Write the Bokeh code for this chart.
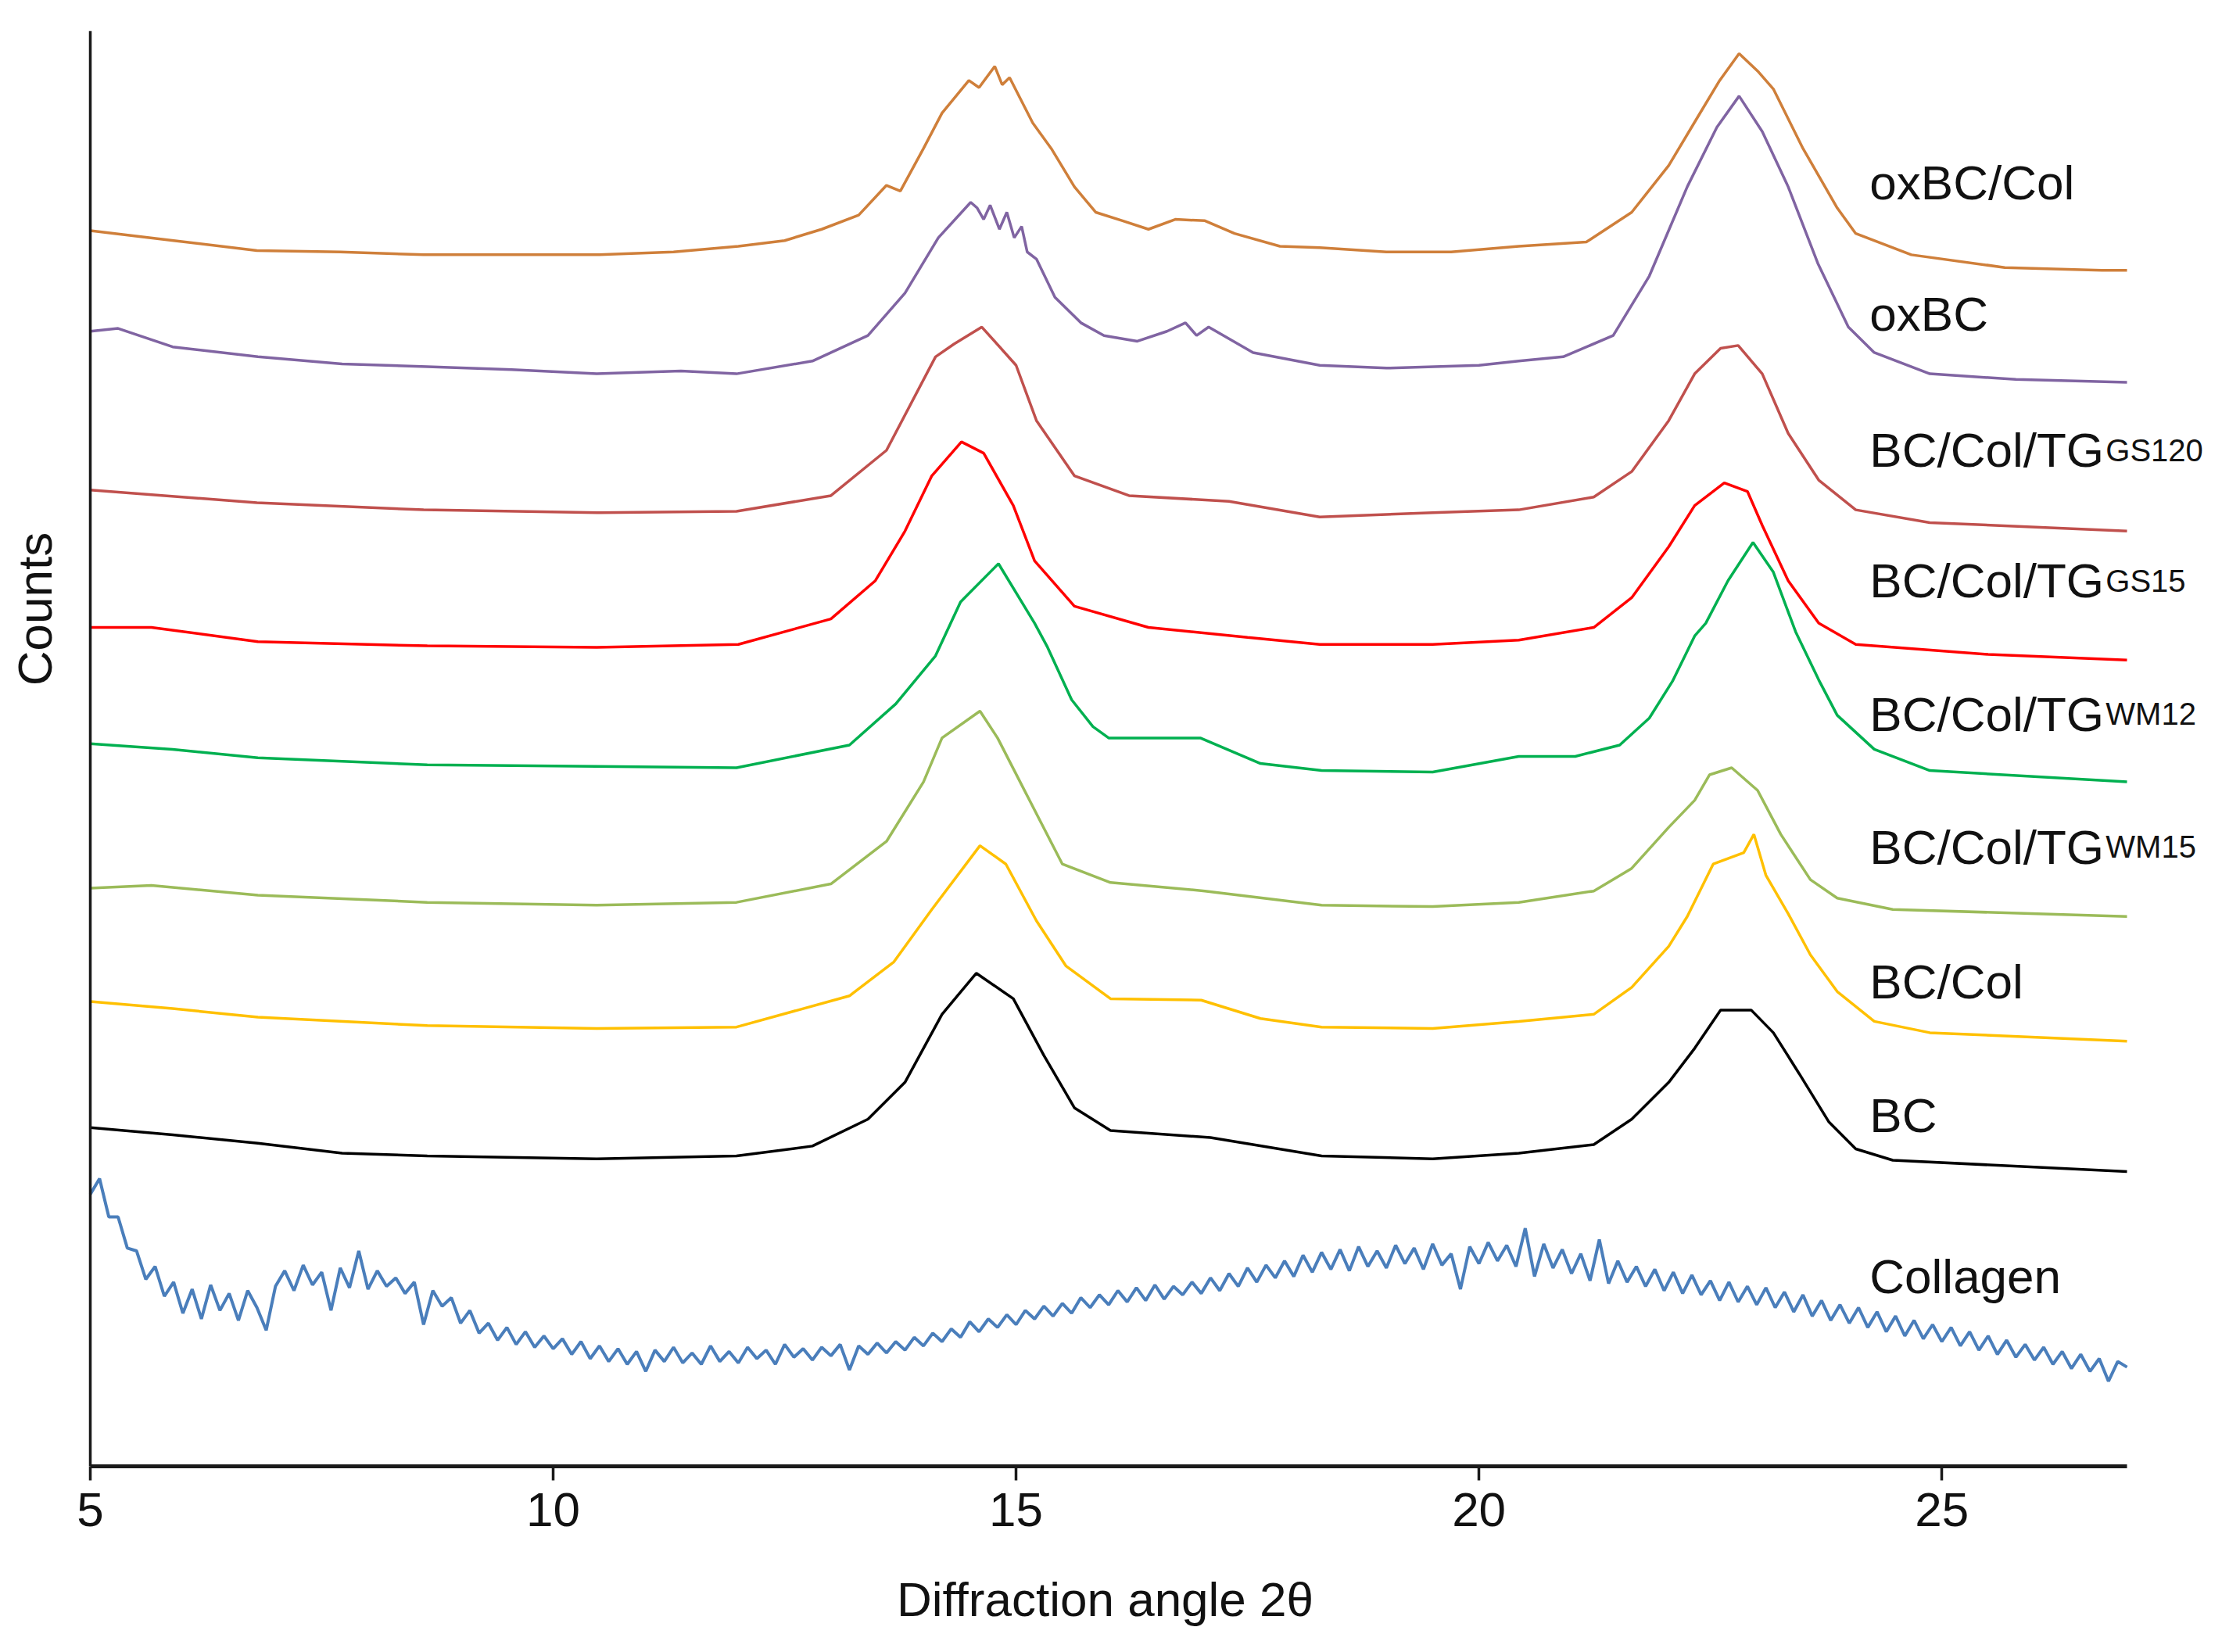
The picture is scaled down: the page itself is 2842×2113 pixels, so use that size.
import math
from bokeh.plotting import figure
from bokeh.models import Range1d, FixedTicker, Label, Span
from bokeh.embed import file_html
from bokeh.resources import INLINE

FONT = "Liberation Sans"

# ---------------- data (diffraction angle 2theta, counts in arbitrary offset units) -------------
x_oxbc_col = [5.0, 5.9, 6.8, 7.7, 8.6, 9.5, 10.5, 11.3, 12.0, 12.5, 12.9, 13.3, 13.6, 13.75, 14.0,
              14.2, 14.49, 14.6, 14.77, 14.85, 14.93, 15.18, 15.38, 15.63, 15.86, 16.15, 16.43,
              16.72, 17.04, 17.36, 17.85, 18.28, 19.0, 19.7, 20.43, 21.16, 21.65, 22.05, 22.37,
              22.6, 22.81, 23.02, 23.18, 23.5, 23.87, 24.07, 24.67, 25.68, 26.73, 27.0]
y_oxbc_col = [872, 865, 858, 857, 855, 855, 855, 857, 861, 865, 873, 883, 904, 900, 930,
              955, 978, 973, 988, 975, 980, 948, 930, 903, 885, 879, 873,
              880, 879, 870, 861, 860, 857, 857, 861, 864, 885, 918, 953,
              978, 997, 984, 972, 930, 888, 870, 855, 846, 844, 844]

x_oxbc = [5.0, 5.3, 5.89, 6.81, 7.72, 8.64, 9.55, 10.47, 11.38, 11.98, 12.8, 13.4, 13.8, 14.16,
          14.51, 14.58, 14.65, 14.72, 14.82, 14.9, 14.98, 15.06, 15.12, 15.22, 15.42, 15.7,
          15.95, 16.31, 16.63, 16.83, 16.95, 17.08, 17.56, 18.28, 19.0, 20.0, 20.43, 20.91,
          21.45, 21.84, 22.25, 22.57, 22.81, 23.06, 23.34, 23.66, 23.99, 24.27, 24.87, 25.8, 27.0]
y_oxbc = [801, 803, 790, 783, 778, 776, 774, 771, 773, 771, 780, 798, 828, 867,
          892, 888, 880, 890, 873, 885, 867, 875, 857, 852, 825, 807,
          798, 794, 801, 807, 798, 804, 786, 777, 775, 777, 780, 783,
          798, 840, 903, 945, 967, 942, 903, 849, 804, 786, 771, 767, 765]

x_gs120 = [5.0, 6.8, 8.6, 10.5, 11.98, 13.0, 13.6, 14.13, 14.33, 14.63, 15.0, 15.22, 15.63, 16.22,
           17.3, 18.28, 19.5, 20.43, 21.24, 21.65, 22.05, 22.33, 22.61, 22.8, 23.06, 23.34,
           23.67, 24.07, 24.87, 27.0]
y_gs120 = [689, 680, 675, 673, 674, 685, 717, 783, 792, 804, 777, 738, 699, 685,
           681, 670, 673, 675, 684, 702, 738, 771, 789, 791, 771, 729,
           696, 675, 666, 660]

x_gs15 = [5.0, 5.66, 6.81, 8.64, 10.47, 12.0, 13.0, 13.48, 13.8, 14.09, 14.41, 14.65, 14.97, 15.2,
          15.63, 16.43, 17.5, 18.28, 19.5, 20.43, 21.24, 21.65, 22.05, 22.33, 22.65, 22.9, 23.06,
          23.34, 23.67, 24.07, 25.5, 27.0]
y_gs15 = [592, 592, 582, 579, 578, 580, 598, 625, 660, 699, 723, 715, 678, 639,
          607, 592, 585, 580, 580, 583, 592, 613, 649, 678, 694, 688, 664,
          625, 595, 580, 573, 569]

x_wm12 = [5.0, 5.89, 6.81, 8.64, 10.47, 11.98, 13.2, 13.7, 14.13, 14.4, 14.81, 15.2, 15.34, 15.6,
          15.83, 16.0, 16.99, 17.64, 18.3, 19.5, 20.43, 21.04, 21.52, 21.84, 22.09, 22.33, 22.45,
          22.69, 22.96, 23.18, 23.42, 23.67, 23.87, 24.27, 24.87, 27.0]
y_wm12 = [510, 506, 500, 495, 494, 493, 509, 538, 572, 610, 637, 595, 578, 541,
          522, 514, 514, 496, 491, 490, 501, 501, 509, 528, 554, 586, 595,
          625, 652, 631, 589, 555, 530, 506, 491, 483]

x_wm15 = [5.0, 5.66, 6.81, 8.64, 10.47, 11.98, 13.0, 13.6, 14.0, 14.2, 14.61, 14.8, 15.13, 15.5,
          16.02, 17.04, 18.3, 19.5, 20.43, 21.24, 21.65, 22.05, 22.33, 22.49, 22.73, 23.01, 23.26,
          23.58, 23.87, 24.47, 27.0]
y_wm15 = [408, 410, 403, 398, 396, 398, 411, 441, 483, 514, 533, 514, 472, 425,
          412, 406, 396, 395, 398, 406, 422, 451, 470, 488, 493, 477, 446,
          414, 401, 393, 388]

x_bc_col = [5.0, 5.89, 6.81, 8.64, 10.47, 11.98, 13.2, 13.68, 14.09, 14.61, 14.89, 15.22, 15.54,
            16.02, 17.0, 17.64, 18.3, 19.5, 20.43, 21.24, 21.65, 22.05, 22.25, 22.53, 22.86, 22.97,
            23.1, 23.34, 23.58, 23.87, 24.27, 24.87, 27.0]
y_bc_col = [328, 323, 317, 311, 309, 310, 332, 356, 393, 438, 425, 385, 353,
            330, 329, 316, 310, 309, 314, 319, 338, 367, 388, 425, 433, 446,
            417, 390, 361, 335, 314, 306, 300]

x_bc = [5.0, 5.89, 6.81, 7.72, 8.64, 10.47, 11.98, 12.8, 13.4, 13.8, 14.2, 14.57, 14.97, 15.3,
        15.63, 16.02, 17.1, 18.3, 19.5, 20.43, 21.24, 21.65, 22.05, 22.33, 22.61, 22.94, 23.18,
        23.46, 23.78, 24.07, 24.47, 27.0]
y_bc = [239, 234, 228, 221, 219, 217, 219, 226, 245, 271, 319, 348, 330, 290,
        253, 237, 232, 219, 217, 221, 227, 245, 271, 295, 322, 322, 306,
        277, 243, 224, 216, 208]

x_collagen = [
    5.0, 5.1, 5.2, 5.3, 5.4, 5.5, 5.6, 5.7, 5.8, 5.9,
    6.0, 6.1, 6.2, 6.3, 6.4, 6.5, 6.6, 6.7, 6.8, 6.9,
    7.0, 7.1, 7.2, 7.3, 7.4, 7.5, 7.6, 7.7, 7.8, 7.9,
    8.0, 8.1, 8.2, 8.3, 8.4, 8.5, 8.6, 8.7, 8.8, 8.9,
    9.0, 9.1, 9.2, 9.3, 9.4, 9.5, 9.6, 9.7, 9.8, 9.9,
    10.0, 10.1, 10.2, 10.3, 10.4, 10.5, 10.6, 10.7, 10.8, 10.9,
    11.0, 11.1, 11.2, 11.3, 11.4, 11.5, 11.6, 11.7, 11.8, 11.9,
    12.0, 12.1, 12.2, 12.3, 12.4, 12.5, 12.6, 12.7, 12.8, 12.9,
    13.0, 13.1, 13.2, 13.3, 13.4, 13.5, 13.6, 13.7, 13.8, 13.9,
    14.0, 14.1, 14.2, 14.3, 14.4, 14.5, 14.6, 14.7, 14.8, 14.9,
    15.0, 15.1, 15.2, 15.3, 15.4, 15.5, 15.6, 15.7, 15.8, 15.9,
    16.0, 16.1, 16.2, 16.3, 16.4, 16.5, 16.6, 16.7, 16.8, 16.9,
    17.0, 17.1, 17.2, 17.3, 17.4, 17.5, 17.6, 17.7, 17.8, 17.9,
    18.0, 18.1, 18.2, 18.3, 18.4, 18.5, 18.6, 18.7, 18.8, 18.9,
    19.0, 19.1, 19.2, 19.3, 19.4, 19.5, 19.6, 19.7, 19.8, 19.9,
    20.0, 20.1, 20.2, 20.3, 20.4, 20.5, 20.6, 20.7, 20.8, 20.9,
    21.0, 21.1, 21.2, 21.3, 21.4, 21.5, 21.6, 21.7, 21.8, 21.9,
    22.0, 22.1, 22.2, 22.3, 22.4, 22.5, 22.6, 22.7, 22.8, 22.9,
    23.0, 23.1, 23.2, 23.3, 23.4, 23.5, 23.6, 23.7, 23.8, 23.9,
    24.0, 24.1, 24.2, 24.3, 24.4, 24.5, 24.6, 24.7, 24.8, 24.9,
    25.0, 25.1, 25.2, 25.3, 25.4, 25.5, 25.6, 25.7, 25.8, 25.9,
    26.0, 26.1, 26.2, 26.3, 26.4, 26.5, 26.6, 26.7, 26.8, 26.9,
    27.0]
y_collagen = [
    192, 203, 176, 176, 154, 152, 132, 141, 120, 130,
    108, 125, 104, 128, 110, 122, 103, 124, 112, 96,
    127, 138, 124, 142, 128, 137, 110, 140, 126, 152,
    125, 138, 127, 133, 122, 130, 100, 124, 113, 119,
    101, 110, 94, 101, 89, 98, 86, 95, 84, 92,
    83, 90, 79, 88, 76, 85, 74, 83, 72, 81,
    67, 82, 74, 84, 73, 80, 72, 85, 74, 81,
    73, 84, 76, 82, 72, 86, 77, 83, 75, 84,
    78, 86, 68, 85, 79, 87, 80, 88, 82, 91,
    85, 94, 88, 97, 91, 102, 95, 104, 98, 107,
    100, 110, 104, 113, 106, 115, 108, 119, 112, 121,
    114, 124, 116, 126, 117, 128, 118, 127, 121, 130,
    122, 133, 124, 136, 127, 140, 130, 142, 133, 145,
    134, 149, 137, 151, 139, 153, 138, 155, 141, 152,
    140, 156, 143, 154, 139, 157, 142, 150, 125, 155,
    143, 158, 145, 156, 141, 168, 134, 157, 140, 153,
    136, 150, 131, 160, 129, 145, 130, 141, 127, 139,
    124, 137, 122, 135, 121, 131, 117, 130, 116, 127,
    114, 126, 112, 123, 109, 121, 106, 117, 103, 114,
    101, 112, 98, 109, 95, 106, 92, 103, 90, 100,
    88, 98, 85, 95, 82, 92, 79, 89, 77, 86,
    75, 84, 72, 81, 69, 79, 67, 76, 60, 74,
    70]

series_names = ["oxBC/Col", "oxBC", "BC/Col/TG", "BC/Col/TG", "BC/Col/TG", "BC/Col/TG",
                "BC/Col", "BC", "Collagen"]
series_subs = ["", "", "GS120", "GS15", "WM12", "WM15", "", "", ""]
series_colors = ["#CF7F3A", "#8064A2", "#C0504D", "#FF0000", "#00B050", "#9BBB59",
                 "#FFC000", "#000000", "#4A7EBB"]
series_x = [x_oxbc_col, x_oxbc, x_gs120, x_gs15, x_wm12, x_wm15, x_bc_col, x_bc, x_collagen]
series_y = [y_oxbc_col, y_oxbc, y_gs120, y_gs15, y_wm12, y_wm15, y_bc_col, y_bc, y_collagen]
x_ticks = [5, 10, 15, 20, 25]
x_min, x_max = 5, 27

# ---------------- figure ----------------
# the frame spans the whole width so that the curve names and the y title fit inside it;
# the x axis line is limited to 5..27 and the y axis line is drawn at x = 5.
px_per_deg = 2605 / 22.0
p = figure(frame_width=2826, frame_height=1836,
           x_range=Range1d(x_min - 115 / px_per_deg, x_max + 106 / px_per_deg),
           y_range=Range1d(0, 1013),
           output_backend="svg", toolbar_location=None,
           min_border_left=0, min_border_right=0,
           min_border_top=39, min_border_bottom=222)
p.xgrid.visible = False
p.ygrid.visible = False
p.yaxis.visible = False
p.outline_line_color = None
p.background_fill_color = "white"
p.border_fill_color = "white"

ax = p.xaxis[0]
ax.bounds = (x_min, x_max)
ax.ticker = FixedTicker(ticks=x_ticks)
ax.axis_line_width = 5
ax.axis_line_color = "#1a1a1a"
ax.major_tick_line_width = 3.5
ax.major_tick_line_color = "#1a1a1a"
ax.major_tick_out = 18
ax.major_tick_in = 0
ax.minor_tick_out = 0
ax.minor_tick_in = 0
ax.major_label_text_font = FONT
ax.major_label_text_font_size = "62px"
ax.major_label_text_color = "#111111"
ax.major_label_standoff = 16
ax.axis_label = "Diffraction angle 2θ"
ax.axis_label_text_font = FONT
ax.axis_label_text_font_size = "62px"
ax.axis_label_text_font_style = "normal"
ax.axis_label_text_color = "#111111"
ax.axis_label_standoff = 56

# y axis line (no ticks in the original)
p.add_layout(Span(location=x_min, dimension="height", line_color="#1a1a1a", line_width=3.5))

for xs, ys, c, nm in zip(series_x, series_y, series_colors, series_names):
    lw = 4 if nm == "Collagen" else 3.5
    p.line(xs, ys, line_color=c, line_width=lw)

# curve labels (baseline positions in data units)
label_x = 24.22
label_base_y = [906, 813, 717, 625, 531, 437, 342, 248, 134]
for nm, sub, yb in zip(series_names, series_subs, label_base_y):
    p.add_layout(Label(x=label_x, y=yb, text=nm, text_font=FONT, text_font_size="62px",
                       text_color="#111111", text_align="left", text_baseline="alphabetic"))
    if sub:
        p.add_layout(Label(x=label_x, y=yb, x_offset=302, text=sub, text_font=FONT,
                           text_font_size="40px", text_color="#111111",
                           text_align="left", text_baseline="alphabetic"))

p.add_layout(Label(x=4.40, y=605, text="Counts", angle=math.pi / 2, text_font=FONT,
                   text_font_size="62px", text_color="#111111",
                   text_align="center", text_baseline="middle"))

open("out.html", "w").write(file_html(p, INLINE))
